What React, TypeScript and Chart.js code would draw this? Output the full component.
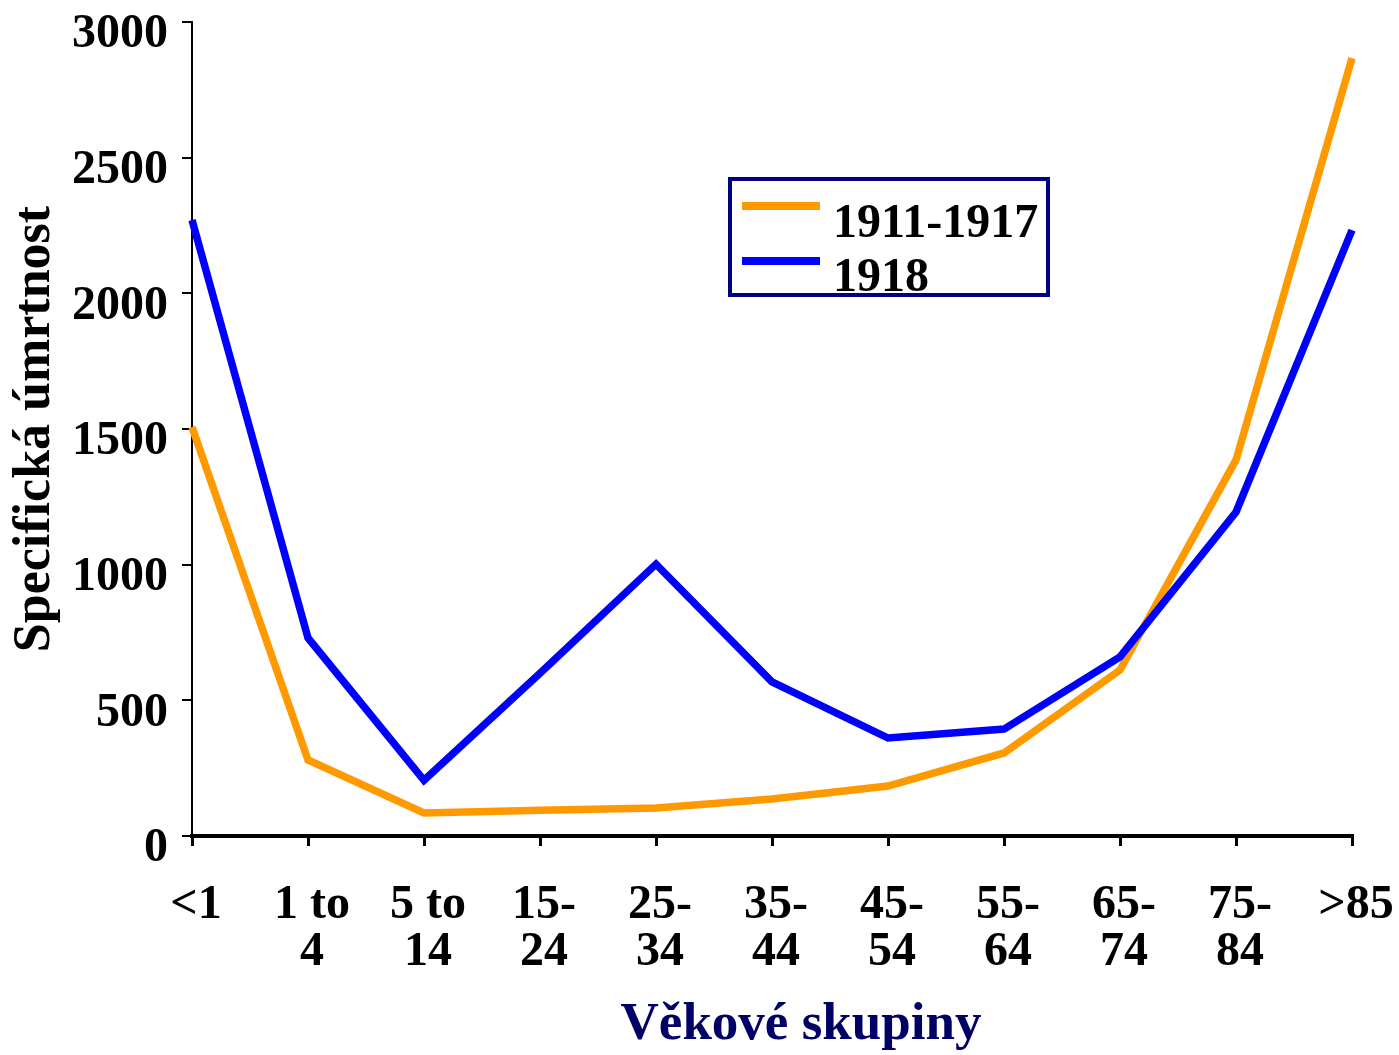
import React, { useEffect, useRef } from "react";
import { Chart, registerables } from "chart.js";

Chart.register(...registerables);

const categories: string[][] = [
  ["<1"],
  ["1 to", "4"],
  ["5 to", "14"],
  ["15-", "24"],
  ["25-", "34"],
  ["35-", "44"],
  ["45-", "54"],
  ["55-", "64"],
  ["65-", "74"],
  ["75-", "84"],
  [">85"],
];
const seriesNames = ["1911-1917", "1918"];
const series1911 = [1507, 280, 85, 95, 103, 136, 184, 306, 612, 1386, 2867];
const series1918 = [2270, 730, 205, 600, 1002, 568, 361, 394, 660, 1194, 2233];
const yTicks = { min: 0, max: 3000, step: 500 };

const FONT = "'Liberation Serif', 'Times New Roman', serif";

const legendPlugin = {
  id: "boxLegend",
  afterDatasetsDraw(chart: any) {
    const ctx = chart.ctx;
    const ds = chart.data.datasets;
    ctx.save();
    ctx.fillStyle = "#ffffff";
    ctx.fillRect(730, 179, 318, 116);
    ctx.lineWidth = 4;
    ctx.strokeStyle = "#000080";
    ctx.strokeRect(730, 179, 318, 116);
    const rows = [206, 261];
    const base = [237, 291];
    ds.forEach((d: any, i: number) => {
      ctx.beginPath();
      ctx.lineWidth = 8;
      ctx.strokeStyle = d.borderColor;
      ctx.moveTo(742, rows[i]);
      ctx.lineTo(820, rows[i]);
      ctx.stroke();
      ctx.fillStyle = "#000000";
      ctx.font = `bold 48px ${FONT}`;
      ctx.textAlign = "left";
      ctx.textBaseline = "alphabetic";
      ctx.fillText(d.label, 833, base[i]);
    });
    ctx.restore();
  },
};

const xTitlePlugin = {
  id: "xTitle",
  afterDraw(chart: any) {
    const ctx = chart.ctx;
    ctx.save();
    ctx.fillStyle = "#000066";
    ctx.font = `bold 53px ${FONT}`;
    ctx.textAlign = "center";
    ctx.textBaseline = "alphabetic";
    ctx.fillText("Věkové skupiny", 801, 1039);
    ctx.restore();
  },
};

export default function App() {
  const ref = useRef<HTMLCanvasElement | null>(null);
  useEffect(() => {
    if (!ref.current) return;
    const chart = new Chart(ref.current, {
      type: "line",
      data: {
        labels: categories,
        datasets: [
          {
            label: seriesNames[0],
            data: series1911,
            borderColor: "#FF9900",
            backgroundColor: "#FF9900",
            borderWidth: 7.5,
            pointRadius: 0,
            tension: 0,
            order: 1,
          },
          {
            label: seriesNames[1],
            data: series1918,
            borderColor: "#0000FF",
            backgroundColor: "#0000FF",
            borderWidth: 7.5,
            pointRadius: 0,
            tension: 0,
            order: 0,
          },
        ],
      },
      options: {
        responsive: false,
        animation: false,
        devicePixelRatio: 1,
        layout: { padding: { top: 22, right: 47, left: 0, bottom: 0 } },
        plugins: {
          legend: { display: false },
          tooltip: { enabled: false },
          title: { display: false },
        },
        scales: {
          x: {
            offset: false,
            grid: {
              drawOnChartArea: false,
              drawTicks: true,
              tickLength: 10,
              lineWidth: 3,
              color: "#000000",
            },
            border: { display: true, color: "#000000", width: 4 },
            ticks: {
              color: "#000000",
              font: { family: FONT, size: 48, weight: "bold", lineHeight: 0.98 },
              padding: 36,
              labelOffset: 4,
              maxRotation: 0,
              minRotation: 0,
              autoSkip: false,
            },
            afterFit(scale: any) {
              scale.height = 219;
              scale.paddingLeft = 0;
              scale.paddingRight = 0;
            },
          },
          y: {
            min: yTicks.min,
            max: yTicks.max,
            grid: {
              drawOnChartArea: false,
              drawTicks: true,
              tickLength: 10,
              lineWidth: 2,
              color: "#000000",
            },
            border: { display: true, color: "#000000", width: 2 },
            ticks: {
              stepSize: yTicks.step,
              color: "#000000",
              font: { family: FONT, size: 48, weight: "bold", lineHeight: 1.0 },
              padding: 14,
              labelOffset: 13,
              callback: (v: any) => String(v),
            },
            title: {
              display: true,
              text: "Specifická úmrtnost",
              color: "#000000",
              font: { family: FONT, size: 52, weight: "bold", lineHeight: 1.2 },
              padding: 4,
            },
            afterFit(scale: any) {
              scale.width = 192;
              scale.paddingTop = 0;
              scale.paddingBottom = 0;
            },
          },
        },
      },
      plugins: [legendPlugin, xTitlePlugin],
    });
    return () => chart.destroy();
  }, []);
  return (
    <div style={{ position: "absolute", left: 0, top: 0, width: 1399, height: 1055, background: "#fff" }}>
      <canvas ref={ref} width={1399} height={1055} style={{ display: "block" }} />
    </div>
  );
}
